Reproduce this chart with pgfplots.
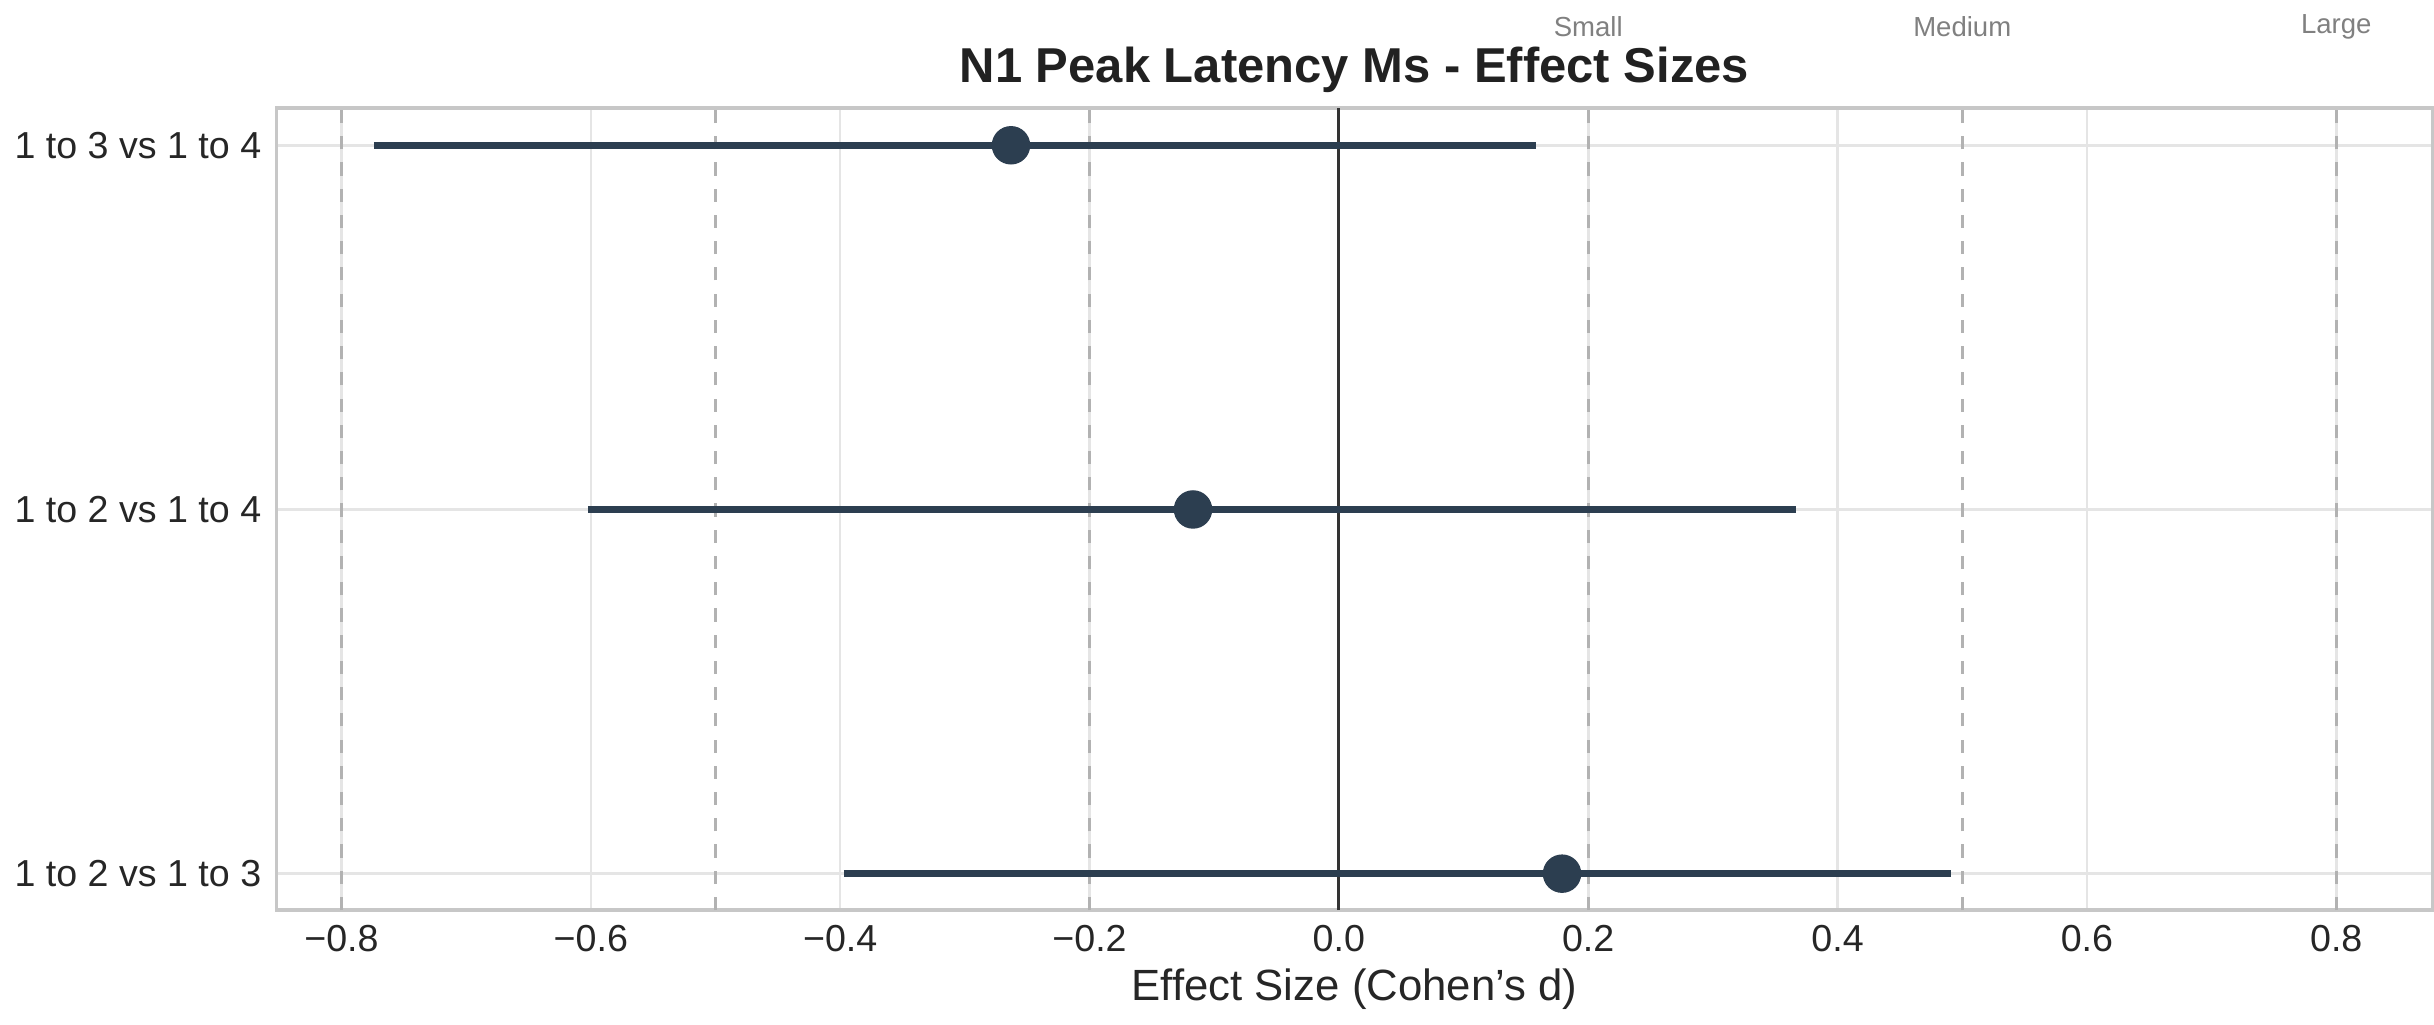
\documentclass[border=0pt]{standalone}
\usepackage{pgfplots}
\pgfplotsset{compat=1.18}
\usepackage{fontspec}
\setmainfont{Liberation Sans}
\definecolor{dk}{HTML}{2C3E50}
\definecolor{gridc}{HTML}{E5E5E5}
\begin{document}
\begin{tikzpicture}
\begin{axis}[
  scale only axis, width=493pt, height=183.5pt,
  xmin=-0.852, xmax=0.877, ymin=-0.1, ymax=2.103,
  xtick={-0.8,-0.6,...,0.81},
  xticklabels={−0.8,−0.6,−0.4,−0.2,0.0,0.2,0.4,0.6,0.8},
  ytick={0,1,2}, yticklabels={1 to 2 vs 1 to 3,1 to 2 vs 1 to 4,1 to 3 vs 1 to 4},
  tick label style={font=\fontsize{8.6}{10}\selectfont, text=black!85},
  major tick length=0pt,
  grid=both, major grid style={gridc, line width=0.6pt},
  axis line style={black!22, line width=0.8pt},
  xlabel={Effect Size (Cohen's d)}, xlabel style={font=\fontsize{10}{12}\selectfont, text=black!85, yshift=3pt},
  title={\textbf{N1 Peak Latency Ms - Effect Sizes}},
  title style={font=\fontsize{11.2}{13}\selectfont, text=black!87, yshift=-6pt},
  clip=false,
]
\pgfplotsinvokeforeach{-0.8,-0.5,-0.2,0.2,0.5,0.8}{
  \addplot[black!30, dashed, line width=0.7pt] coordinates {(#1,-0.1) (#1,2.103)};
}
\addplot[black!80, line width=0.7pt] coordinates {(0,-0.1) (0,2.103)};
\addplot[dk, line width=1.6pt] coordinates {(-0.774,2) (0.158,2)};
\addplot[dk, line width=1.6pt] coordinates {(-0.602,1) (0.367,1)};
\addplot[dk, line width=1.6pt] coordinates {(-0.397,0) (0.491,0)};
\addplot[only marks, mark=*, mark size=4.2pt, dk] coordinates {(-0.263,2) (-0.117,1) (0.179,0)};
\node[font=\fontsize{6.3}{8}\selectfont, text=black!50] at (axis cs:0.2,2.103) [yshift=18.5pt] {Small};
\node[font=\fontsize{6.3}{8}\selectfont, text=black!50] at (axis cs:0.5,2.103) [yshift=18.5pt] {Medium};
\node[font=\fontsize{6.3}{8}\selectfont, text=black!50] at (axis cs:0.8,2.103) [yshift=18.5pt] {Large};
\end{axis}
\end{tikzpicture}
\end{document}
